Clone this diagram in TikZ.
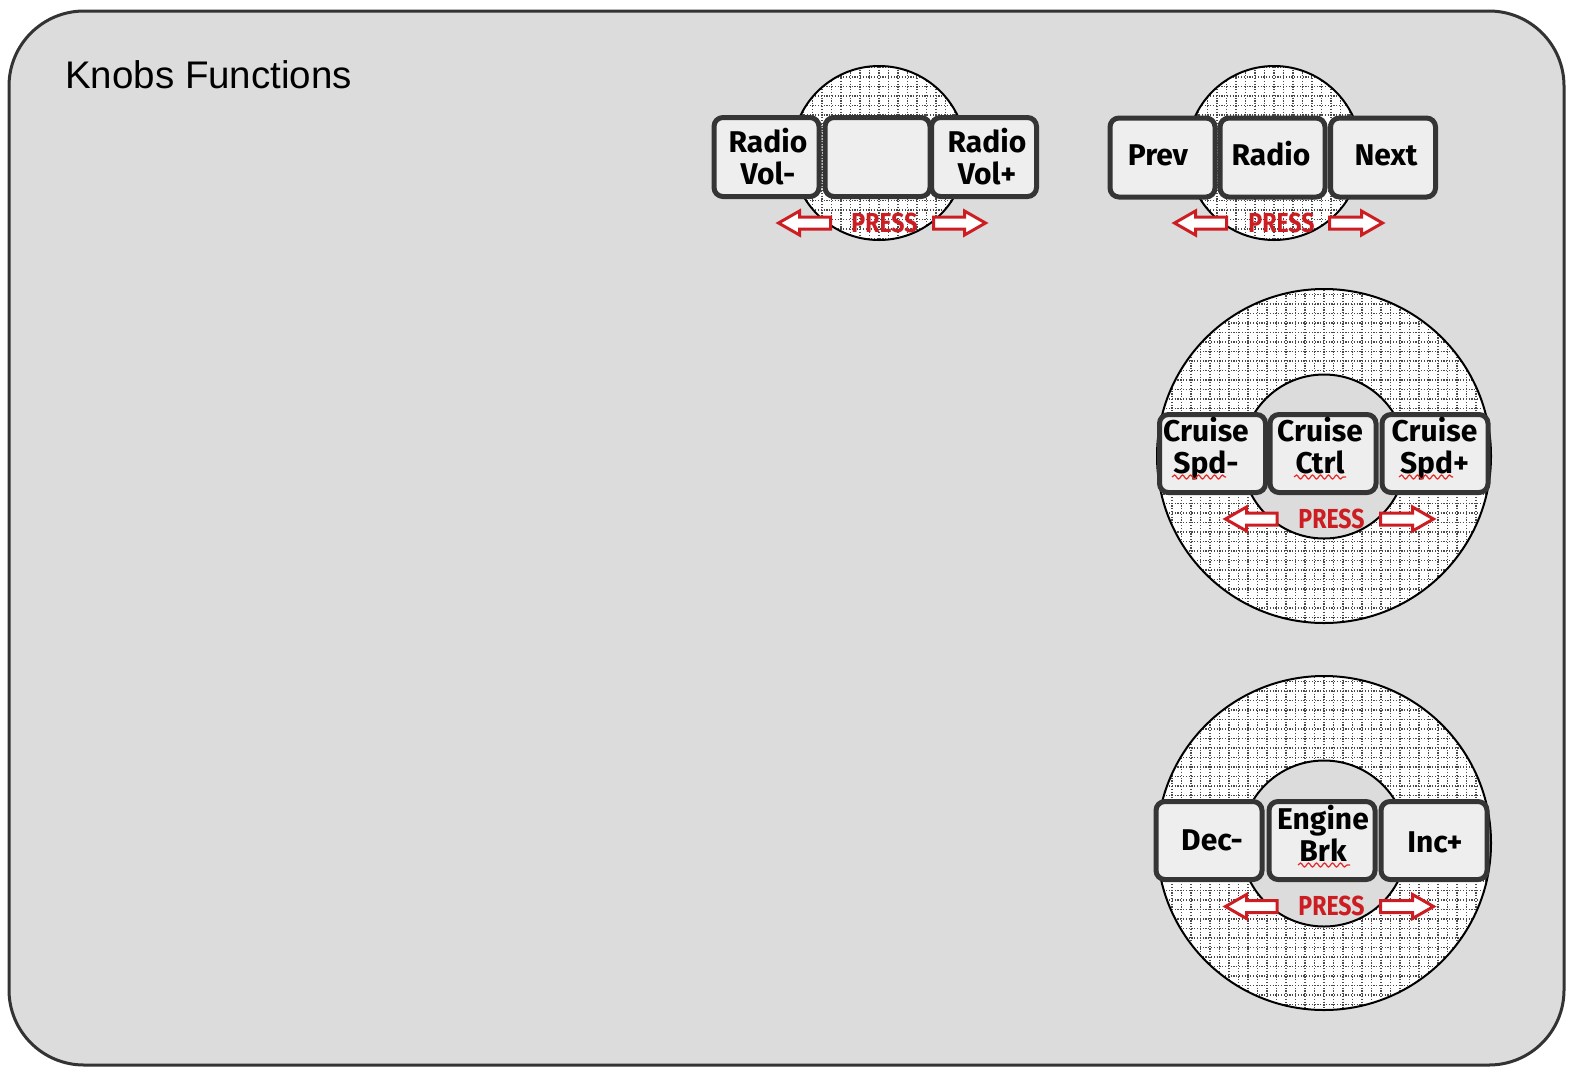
\documentclass[tikz,border=0pt]{standalone}
\usepackage{fontspec}
\setmainfont{Liberation Sans}
\newfontfamily\knobfont{Fira Sans}
\newfontfamily\pressfont[FakeStretch=0.84]{Fira Sans}
\usetikzlibrary{decorations.pathmorphing}
\definecolor{bgc}{HTML}{DCDCDC}
\definecolor{framec}{HTML}{333333}
\definecolor{boxfill}{HTML}{EEEEEE}
\definecolor{boxline}{HTML}{353535}
\definecolor{pressred}{RGB}{204,30,34}
\definecolor{squigred}{RGB}{230,40,40}
\definecolor{hatchc}{HTML}{4A4A4A}
\newcommand\hatchdisk[3]{%
  \begin{scope}
    \clip (#1,#2) circle[radius=#3pt];
    \fill[white] (#1,#2) circle[radius=#3pt];
    \foreach \i in {-19,...,19} {
      \draw[hatch] (#1+9.5*\i,#2-#3-2) -- (#1+9.5*\i,#2+#3+2);
      \draw[hatch] (#1-#3-2,#2+9.5*\i) -- (#1+#3+2,#2+9.5*\i);
    }
  \end{scope}
  \draw[ring] (#1,#2) circle[radius=#3pt];
}
\newcommand\leftarr[3]{% tip x, y, tail x
  \draw[arr] (#1,#2) -- (#1+21,#2-12) -- (#1+21,#2-6) -- (#3,#2-6) -- (#3,#2+6) -- (#1+21,#2+6) -- (#1+21,#2+12) -- cycle;
}
\newcommand\rightarr[3]{% tip x, y, tail x
  \draw[arr] (#1,#2) -- (#1-21,#2-12) -- (#1-21,#2-6) -- (#3,#2-6) -- (#3,#2+6) -- (#1-21,#2+6) -- (#1-21,#2+12) -- cycle;
}
\begin{document}
\begin{tikzpicture}[x=1pt,y=-1pt,
  keybox/.style={draw=boxline, fill=boxfill, line width=5pt, rounded corners=9pt,
    minimum width=105pt, minimum height=79pt, inner sep=0pt},
  keytxt/.style={font=\knobfont\bfseries\fontsize{30}{32}\selectfont, align=center, inner sep=0pt, text=black},
  press/.style={font=\pressfont\bfseries\fontsize{27.5}{30}\selectfont, text=pressred, inner sep=0pt, anchor=base},
  arr/.style={draw=pressred, fill=white, line width=3pt, line join=miter},
  ring/.style={draw=black, line width=2pt},
  hatch/.style={draw=hatchc, line width=1.1pt, dash pattern=on 1.1pt off 1.7pt},
  squig/.style={draw=squigred, line width=1.2pt, decorate, decoration={snake, amplitude=2pt, segment length=8pt}}
]
\useasboundingbox (0,0) rectangle (1574,1072);
% frame
\draw[draw=framec, fill=bgc, line width=3pt, rounded corners=75pt] (9,11) rectangle (1564,1065);
\node[anchor=base west, inner sep=0pt, font=\fontsize{38.5}{40}\selectfont] (title) at (65,88) {Knobs Functions};

% ---------- knob 1 ----------
\hatchdisk{879}{153}{87}
\node[keybox] (b11) at (766.5,157) {};
\node[keybox] (b12) at (877.5,157) {};
\node[keybox] (b13) at (984,157) {};
\node[keytxt] (t11) at (768,156.2) {Radio\\Vol-};
\node[keytxt] (t13) at (987,156.2) {Radio\\Vol+};
\leftarr{778.5}{223}{830.5}
\rightarr{985.5}{223}{933.5}
\node[press] (p1) at (884.5,232) {PRESS};

% ---------- knob 2 ----------
\hatchdisk{1274}{153}{87}
\node[keybox] (b21) at (1162.5,157.5) {};
\node[keybox] (b22) at (1272.5,157.5) {};
\node[keybox] (b23) at (1383,157.5) {};
\node[keytxt, anchor=base] (t21) at (1158,165.5) {Prev};
\node[keytxt, anchor=base] (t22) at (1271,165.5) {Radio};
\node[keytxt, anchor=base] (t23) at (1386,165.5) {Next};
\leftarr{1174.5}{223}{1226.5}
\rightarr{1382.5}{223}{1329.5}
\node[press] (p2) at (1281.5,232) {PRESS};

% ---------- knob 3 ----------
\hatchdisk{1324}{456}{167}
\draw[ring, fill=bgc] (1324,456.5) circle[radius=82pt];
\node[keybox, minimum width=106pt, minimum height=78pt] (b31) at (1212.5,453.5) {};
\node[keybox, minimum width=106pt, minimum height=78pt] (b32) at (1323,453.5) {};
\node[keybox, minimum width=106pt, minimum height=78pt] (b33) at (1435,453.5) {};
\node[keytxt] (t31) at (1206,448.5) {Cruise\\Spd-};
\node[keytxt] (t32) at (1320,445.2) {Cruise\\Ctrl};
\node[keytxt] (t33) at (1434.5,448.5) {Cruise\\Spd+};
\draw[squig] (1172,477) -- (1226,477);
\draw[squig] (1294,477) -- (1346,477);
\draw[squig] (1399,477) -- (1453,477);
\leftarr{1225.5}{519}{1277}
\rightarr{1433.5}{519}{1380.5}
\node[press] (p3) at (1331.5,528) {PRESS};

% ---------- knob 4 ----------
\hatchdisk{1324}{843}{167}
\draw[ring, fill=bgc] (1324,843.5) circle[radius=83pt];
\node[keybox, minimum width=106pt, minimum height=78pt] (b41) at (1209,840.5) {};
\node[keybox, minimum width=106pt, minimum height=78pt] (b42) at (1322,840.5) {};
\node[keybox, minimum width=106pt, minimum height=78pt] (b43) at (1434,840.5) {};
\node[keytxt, anchor=base] (t41) at (1212,850) {Dec-};
\node[keytxt] (t42) at (1323,833.2) {Engine\\Brk};
\node[keytxt, anchor=base] (t43) at (1435,852) {Inc+};
\draw[squig] (1298,865) -- (1350,865);
\leftarr{1225.5}{906.5}{1277}
\rightarr{1433.5}{906.5}{1380.5}
\node[press] (p4) at (1331.5,915) {PRESS};
\end{tikzpicture}
\end{document}
